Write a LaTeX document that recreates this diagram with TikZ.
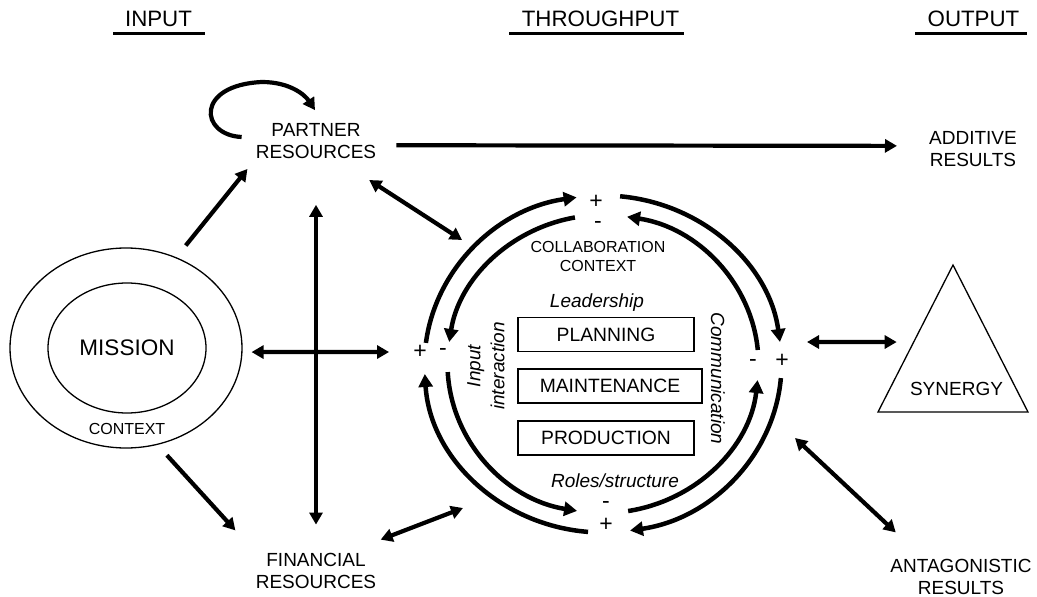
\documentclass[tikz,border=0pt]{standalone}
\usepackage{fontspec}
\setmainfont{Liberation Sans}
\usetikzlibrary{arrows.meta,shapes.geometric,calc}

\begin{document}
\begin{tikzpicture}
[x=1pt,y=-1pt,
  textDecorate/.style={inner sep=0pt,align=center,font=\fontsize{19}{22}\selectfont},
  smallDecorate/.style={inner sep=0pt,align=center,font=\fontsize{16}{19}\selectfont},
  italicDecorate/.style={inner sep=0pt,align=center,font=\fontsize{19}{24}\selectfont\itshape},
  signDecorate/.style={inner sep=0pt,font=\fontsize{23}{23}\selectfont},
  titleDecorate/.style={inner sep=0pt,anchor=base,font=\fontsize{22.3}{26}\selectfont},
  boxDecorate/.style={draw,line width=1.5pt,inner sep=0pt,minimum height=34pt,font=\fontsize{19.3}{22}\selectfont},
  ovalDecorate/.style={draw,ellipse,line width=1.3pt,inner sep=0pt},
  arrowDecorate/.style={line width=4.2pt,-{Triangle[length=12pt,width=13pt]}},
  twoWayDecorate/.style={line width=4.2pt,{Triangle[length=12pt,width=13pt]}-{Triangle[length=12pt,width=13pt]}},
  ringDecorate/.style={line width=4.5pt,-{Triangle[length=13pt,width=14pt]}}]
\useasboundingbox (0,0) rectangle (1037,597);
%% titles
\foreach \nodename/\x/\txt/\ua/\ub in {
  input/158.5/INPUT/113/205, throughput/600.5/THROUGHPUT/509/684, output/973.5/OUTPUT/915/1027}
{
  \node (\nodename) at (\x,27) [titleDecorate] {\txt};
  \draw[line width=3pt] (\ua,33.2) -- (\ub,33.2);
}
%% mission and context
\node (context) at (126,348) [ovalDecorate,minimum width=232pt,minimum height=200pt] {};
\node (mission) at (127,348) [ovalDecorate,minimum width=158pt,minimum height=130pt,
  font=\fontsize{22.5}{26}\selectfont] {MISSION};
\node (contextlabel) at (127,428.5) [smallDecorate] {CONTEXT};
%% resources and results
\foreach \nodename/\x/\y/\txt in {
  partner/316/141/{PARTNER\\RESOURCES}, financial/316/570.5/{FINANCIAL\\RESOURCES},
  additive/973/149/{ADDITIVE\\RESULTS}, antagonistic/961/577/{ANTAGONISTIC\\RESULTS},
  synergy/956.5/389/SYNERGY}
{
  \node (\nodename) at (\x,\y) [textDecorate] {\txt};
}
%% synergy triangle
\coordinate (synapex) at (953,265);
\coordinate (synleft) at (878,412);
\coordinate (synright) at (1028,412);
\coordinate (synIn) at ($(synapex)!0.524!(synleft)$);
\draw[line width=1.3pt] (synapex) -- (synleft) -- (synright) -- cycle;
%% throughput processes
\foreach \nodename/\x/\y/\w/\txt in {
  planning/606/334.5/176/PLANNING, maintenance/610/386/184/MAINTENANCE,
  production/606/438/176/PRODUCTION}
{
  \node (\nodename) at (\x,\y) [boxDecorate,minimum width=\w pt] {\txt};
}
\node (collab) at (598,256.5) [smallDecorate] {COLLABORATION\\CONTEXT};
\node (leadership) at (597,307) [italicDecorate,anchor=base] {Leadership};
\node (roles) at (615,487) [italicDecorate,anchor=base] {Roles/structure};
\node (inputia) at (486,366) [italicDecorate,rotate=90] {Input\\interaction};
\node (communication) at (718,378.5) [italicDecorate,rotate=-90] {Communication};
%% signs round the cycle
\foreach \nodename/\x/\y/\sign in {
  tplus/596/202/+, tminus/598/225/-, lplus/420/352/+, lminus/443/352/-,
  rminus/753/363/-, rplus/782/361/+, bminus/606/505/-, bplus/606/525/+}
{
  \node (\nodename) at (\x,\y) [signDecorate] {\sign};
}
%% cycle arcs
\coordinate (cyc) at (603,364);
\foreach \from/\to/\rx/\ry in {
  172.8/98.5/178.5/168.5, 84.5/7.5/178.5/168.5, -4.8/-81.3/178.5/168.5, -94.8/-176.6/178.5/168.5,
  100.4/171.5/155.5/149, 183.1/260.4/155.5/149, 279.3/353.8/155.5/149, 5.4/81.1/155.5/149}
{
  \draw[ringDecorate] (cyc) ++(\from:\rx pt and \ry pt)
    arc[start angle=\from,end angle=\to,x radius=\rx pt,y radius=\ry pt];
}
%% free ends at the cycle
\foreach \cname/\x/\y in {
  cycNW/462/240, cycSW/463/508, cycE/807/342, cycSE/795/438}
{
  \coordinate (\cname) at (\x,\y);
}
%% one way arrows
\path
\foreach \startnode/\endnode/\s/\e in {
  context.61/partner.south west/15pt/13pt, context.-72/financial.north west/14pt/30pt,
  partner.-4/additive.176/20pt/32pt}
{
  (\startnode) edge[arrowDecorate,shorten <=\s,shorten >=\e] (\endnode)
};
\draw[arrowDecorate] ([shift={(-14,-4)}]partner.west) .. controls +(-42,-2) and (195,85) .. (262,82)
  .. controls (290,82) and (305,95) .. ([shift={(-1,-13)}]partner.north);
%% two way arrows
\path
\foreach \startnode/\endnode/\s/\e in {
  partner.-41/cycNW/39pt/0pt, financial.30/cycSW/36pt/0pt,
  partner.south/financial.north/46pt/28pt, context.-2/lplus/9pt/24pt,
  cycE/synIn/0pt/17pt, cycSE/antagonistic.154/0pt/39pt}
{
  (\startnode) edge[twoWayDecorate,shorten <=\s,shorten >=\e] (\endnode)
};
\end{tikzpicture}
\end{document}
